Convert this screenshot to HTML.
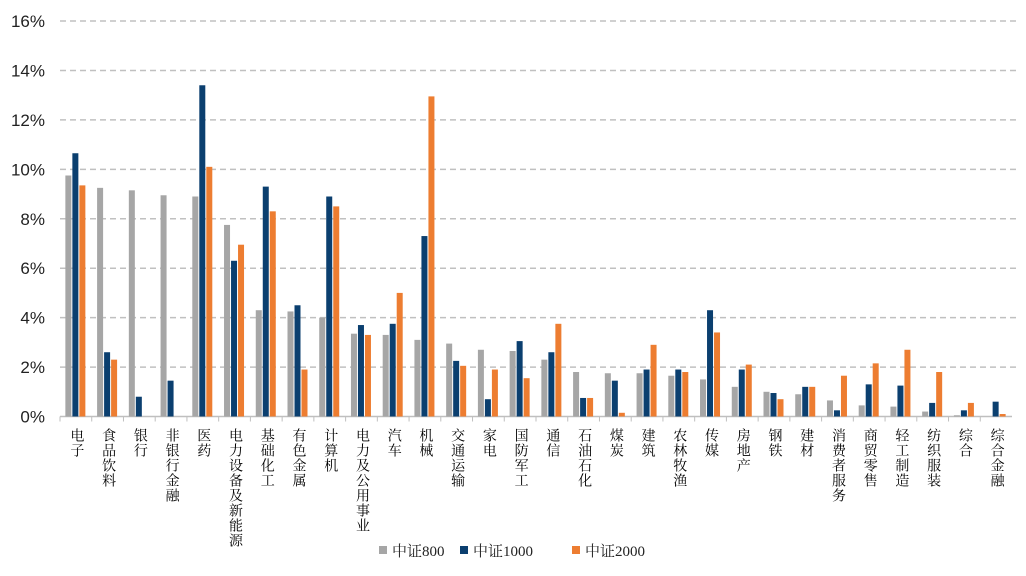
<!DOCTYPE html>
<html><head><meta charset="utf-8"><style>
body{margin:0;background:#fff;}
svg{display:block;font-family:"Liberation Sans","Noto Sans CJK SC",sans-serif;}
.cat{font-family:"Liberation Serif","Noto Serif CJK SC",serif;font-size:14px;fill:#000;writing-mode:vertical-rl;letter-spacing:1px;}
.leg{font-family:"Liberation Serif","Noto Serif CJK SC",serif;font-size:15px;fill:#222;}
</style></head><body>
<svg id="chart" width="1026" height="576"></svg>
<script>
const categories=["电子","食品饮料","银行","非银行金融","医药","电力设备及新能源","基础化工","有色金属","计算机","电力及公用事业","汽车","机械","交通运输","家电","国防军工","通信","石油石化","煤炭","建筑","农林牧渔","传媒","房地产","钢铁","建材","消费者服务","商贸零售","轻工制造","纺织服装","综合","综合金融"];
const csi800=[9.75,9.25,9.15,8.95,8.9,7.75,4.3,4.25,4.0,3.35,3.3,3.1,2.95,2.7,2.65,2.3,1.8,1.75,1.75,1.65,1.5,1.2,1.0,0.9,0.65,0.45,0.4,0.2,0.05,0.0];
const csi1000=[10.65,2.6,0.8,1.45,13.4,6.3,9.3,4.5,8.9,3.7,3.75,7.3,2.25,0.7,3.05,2.6,0.75,1.45,1.9,1.9,4.3,1.9,0.95,1.2,0.25,1.3,1.25,0.55,0.25,0.6];
const csi2000=[9.35,2.3,0,0,10.1,6.95,8.3,1.9,8.5,3.3,5.0,12.95,2.05,1.9,1.55,3.75,0.75,0.15,2.9,1.8,3.4,2.1,0.7,1.2,1.65,2.15,2.7,1.8,0.55,0.1];
const yTicks=[0,2,4,6,8,10,12,14,16];
const seriesNames=["中证800","中证1000","中证2000"];
const colors=["#a6a6a6","#0b3f6f","#ed7d31"];
const NS="http://www.w3.org/2000/svg";
const svg=document.getElementById('chart');
const x0=60,x1=1012,y0=416.5,yTop=21,yMax=16;
const step=(x1-x0)/categories.length;
const y=v=>y0-(v/yMax)*(y0-yTop);
function mk(t,a){const e=document.createElementNS(NS,t);for(const k in a)e.setAttribute(k,a[k]);svg.appendChild(e);return e;}
yTicks.forEach(t=>{
  if(t>0){const g=mk('line',{x1:x0,x2:1020,y1:y(t),y2:y(t),stroke:'#c0c0c0','stroke-width':1.5,'stroke-dasharray':'6,4'});
  
  }
  const l=mk('text',{x:45,y:y(t)+6,'text-anchor':'end','font-size':17,fill:'#222'});l.textContent=t+'%';
  
  
});
const ax=mk('line',{x1:x0,x2:x1,y1:y0,y2:y0,stroke:'#bfbfbf','stroke-width':1.5});


const series=[csi800,csi1000,csi2000];
categories.forEach((c,i)=>{
  const cx=x0+step*(i+0.5);
  const tk=mk('line',{x1:x0+step*i,x2:x0+step*i,y1:y0,y2:y0+5,stroke:'#bfbfbf'});
  
  
  series.forEach((s,j)=>{
    const bx=cx-10.5+j*7;
    const r=mk('rect',{x:bx,y:y(s[i]),width:6,height:y0-y(s[i]),fill:colors[j]});
    
    
  });
  const t=mk('text',{x:cx,y:428,class:'cat'});t.textContent=c;
  
  
});
const lx=[379,460,572];
seriesNames.forEach((n,j)=>{
  const r=mk('rect',{x:lx[j],y:546,width:8,height:8,fill:colors[j]});
  
  
  const t=mk('text',{x:lx[j]+13,y:556,class:'leg'});t.textContent=n;
  
  
});
</script>
</body></html>
